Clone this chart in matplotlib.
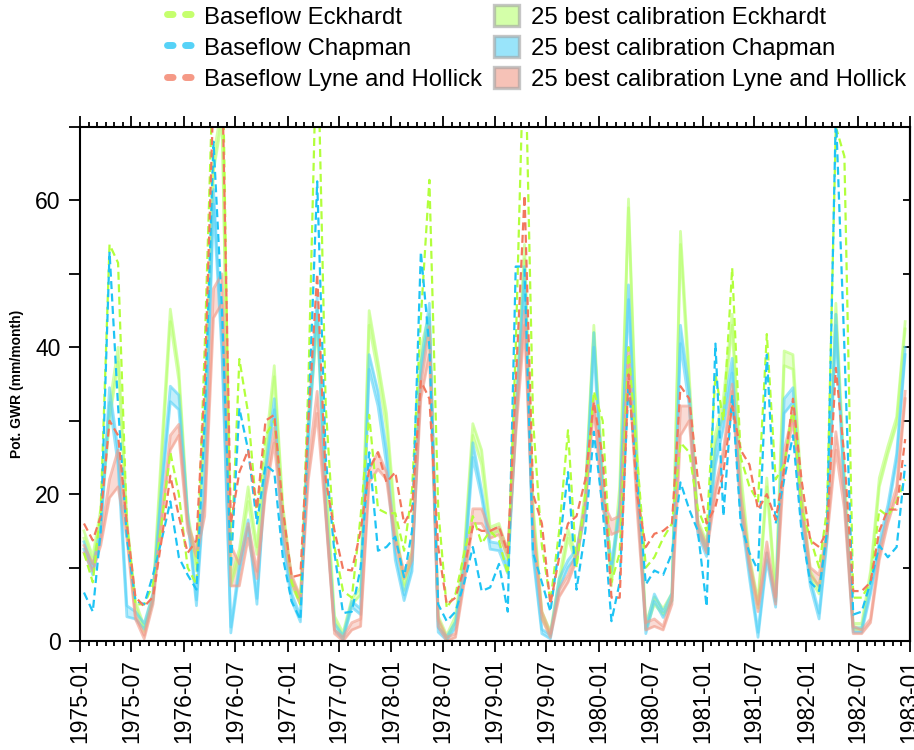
import matplotlib
matplotlib.use("Agg")
import matplotlib.pyplot as plt
import matplotlib.dates as mdates
from matplotlib.lines import Line2D
from matplotlib.patches import Patch
import numpy as np
import pandas as pd

plt.rcParams['font.family'] = ['Liberation Sans', 'DejaVu Sans']

months = pd.date_range('1975-01-01', periods=96, freq='MS') + pd.Timedelta(days=14)

base_eck = [12, 8, 18, 54, 51.5, 16, 5, 5, 7.7, 16, 25.7, 20,
            10, 7.7, 40, 80, 85, 10, 38.4, 31, 17, 28, 30, 18,
            8, 5, 35, 85, 32, 12.8, 6.8, 5.9, 17, 30.8, 18, 17.4,
            17.4, 12.3, 20.6, 44, 62.8, 18, 4.5, 6.4, 12, 17, 13.3, 15,
            13.7, 9, 40, 85, 30, 13, 5.4, 15, 28.7, 10, 20, 34,
            30, 8, 12, 40, 25, 10, 11.4, 14, 16, 27, 25.7, 18,
            15, 36.3, 30, 50.8, 25, 21, 19, 41.8, 22, 24, 32, 18,
            14, 10, 18, 70, 66, 5.9, 5.9, 8, 17.9, 17, 19, 22]
base_chap = [6.6, 4, 15, 53, 32, 14, 5.5, 5, 9, 13.7, 19, 11.4,
             9, 7, 30, 68, 45, 10, 31.7, 26, 16, 24, 23, 11.4,
             5.4, 2.9, 30, 62.6, 25, 11.9, 3.8, 4, 10, 25.7, 12.3, 12.8,
             14.2, 8.7, 15, 53, 40, 5, 2.7, 4, 8, 12.8, 6.8, 7.3,
             10.5, 4, 51, 51, 12, 8, 4, 12.8, 23, 7, 15, 28.5,
             18, 2.7, 8, 35, 22, 7.7, 9.6, 9, 12, 21.6, 17.9, 15,
             4.7, 40.5, 17, 33.5, 16, 12, 9.6, 39, 16, 22, 28, 15,
             8, 6.8, 15, 72, 40, 3.6, 4, 8, 13, 11.4, 12.8, 24]
base_lh = [16, 13.7, 17, 30, 28, 16, 6, 4.7, 6, 13.7, 22.5, 17,
           12, 13.7, 35, 75, 78, 16, 23, 26, 18, 30, 30.8, 18,
           8.7, 9, 30, 50, 22, 15, 9.8, 9.6, 15, 23.4, 25.7, 21.6,
           23, 16, 18, 35.4, 33, 12.8, 5, 5.9, 10, 15.6, 15, 15,
           15.6, 12, 35, 60.7, 20, 16, 5, 11.4, 16, 17, 22, 32.6,
           25, 5.9, 5.9, 36.3, 20, 12.8, 14.6, 15, 16, 34.7, 33, 22,
           16, 18.3, 23, 32, 26, 24, 17.9, 20, 16.5, 23.4, 33, 22,
           13.7, 12.8, 15, 37.2, 25, 6.8, 6.8, 8, 15, 17.9, 17.9, 27.5]

eck_lo = [14, 10.5, 16.8, 30, 38, 15.5, 4.6, 1.3, 5.6, 24, 43.5, 35.5,
          16.5, 9.5, 29, 64, 71, 7.5, 11.5, 19, 11.8, 24, 36, 17.5,
          7.5, 5, 29, 43, 21, 2.6, 0.5, 5, 6.3, 43, 36.5, 29,
          15.5, 6.9, 11.5, 38, 43, 2.6, 0.3, 2.6, 11.5, 28, 24, 14.5,
          15, 11, 29, 52, 17.5, 3.2, 0.7, 7.5, 14, 10.5, 19.5, 42,
          21.5, 7.5, 19, 59, 24, 1.6, 5, 3.6, 5.5, 54, 34, 15.5,
          12.5, 27, 31, 43, 21, 10.5, 4.5, 21, 5.5, 37.5, 37, 19.5,
          8.5, 6.4, 14.5, 44.5, 21, 1.6, 1.6, 8.5, 21, 25.5, 29.5, 42.5]
eck_hi = [15, 11.5, 18, 32, 40, 16.5, 5.4, 2, 6.4, 26, 45.2, 37,
          17.5, 10.5, 31, 66, 73, 8.5, 12.5, 21, 12.8, 26, 37.5, 18.5,
          8.5, 5.8, 31, 45, 23, 3.4, 1.1, 5.8, 7.3, 45, 38, 31,
          16.5, 7.7, 12.5, 40, 44.5, 3.4, 0.8, 3.4, 12.5, 29.6, 26, 15.5,
          16, 12, 31, 54, 18.5, 4, 1.3, 8.5, 15.2, 11.5, 20.5, 43,
          22.5, 8.5, 21, 60.2, 26, 2.4, 6, 4.4, 6.5, 55.8, 36, 16.5,
          13.5, 28.2, 33, 44.5, 23, 11.5, 5.5, 22.2, 6.5, 39.5, 39, 20.5,
          9.5, 7.2, 15.5, 46, 23, 2.4, 2.4, 9.5, 22.2, 26.5, 30.5, 43.5]

chap_lo = [12.5, 9, 14.5, 32.5, 24, 3.3, 3, 1.6, 5.5, 20, 32.6, 31.5,
           16.5, 4.8, 21, 59.5, 39, 1.1, 9.5, 15.5, 5, 22.5, 31.5, 13.2,
           5.5, 2.6, 27, 45, 17.5, 1.6, 0.2, 4.6, 3.6, 37, 32, 24,
           11, 5.5, 9.5, 36, 44, 1.2, 0.1, 1.8, 9.5, 25, 19.5, 12.5,
           12.3, 9.2, 29, 49, 11.5, 1, 0.3, 7.2, 10, 11.5, 17.5, 40,
           19.5, 9.5, 17.5, 46.5, 21, 1, 5.4, 3.2, 5.5, 40.5, 32, 14.5,
           11.5, 24, 29, 36.5, 17.5, 8.5, 0.5, 11, 4.6, 31, 32.5, 16.5,
           7.5, 3, 13.5, 43, 19.5, 1.2, 1.2, 6.4, 12.5, 17.5, 24.5, 39]
chap_hi = [13.5, 10, 15.5, 34.5, 26, 4.8, 4, 2.4, 6.5, 21.2, 34.7, 33.5,
           17.5, 5.6, 23, 61.5, 41, 1.9, 10.5, 16.5, 5.8, 23.5, 33, 14.2,
           6.5, 3.4, 29, 47, 18.5, 2.4, 0.7, 5.4, 4.4, 39, 34, 26,
           12, 6.3, 10.5, 37.6, 46, 1.8, 0.6, 2.6, 10.5, 27, 20.5, 13.5,
           13.3, 10, 31, 51, 12.5, 1.6, 0.8, 8.5, 11, 12.5, 18.5, 42,
           20.5, 10.5, 18.5, 48.5, 23, 1.7, 6.4, 4, 6.5, 43, 34, 15.5,
           12.5, 26, 31, 38.5, 18.5, 9.5, 1.2, 12, 5.4, 33, 34.5, 17.5,
           8.5, 3.8, 14.5, 44.5, 20.5, 1.8, 1.8, 7.2, 13.5, 18.5, 25.5, 40]

lh_lo = [12, 9.5, 13, 19.5, 21, 14, 3, 0.3, 5, 16, 26, 28,
         15, 11.5, 17, 44, 46, 7.5, 7.5, 14, 8.5, 20, 27, 15,
         8, 5, 22, 31, 17, 1, 0, 1.5, 2, 21.6, 23.4, 22,
         13, 8.5, 11, 33, 39, 2, 0, 0.5, 8, 16, 16, 14,
         14.5, 11.5, 28, 43, 15, 3, 0.5, 6, 8, 11, 18, 32,
         18, 14.5, 15, 38, 18, 1.5, 2, 1.5, 5, 28, 30, 15,
         12, 20, 25, 34, 18, 10, 4, 12, 5, 24, 30, 18,
         9, 7.5, 14, 26, 18, 1, 1, 2.5, 11, 16, 20, 33]
lh_hi = [13, 10.5, 14, 22, 26, 15, 3.5, 0.8, 6, 17, 28, 29.5,
         16, 12.5, 19, 48, 50, 13, 10.5, 16, 9.5, 21, 29, 16.5,
         9, 6, 24, 34, 18, 1.5, 0.5, 2.5, 3, 23.4, 25.7, 23,
         14, 9.5, 12, 35, 42.8, 3, 0.5, 1, 9, 18, 18, 15,
         15.5, 12.5, 30, 45, 16, 4, 1, 7, 9, 12, 19, 33,
         19, 16.5, 17, 40, 20, 2.5, 3, 2, 6, 32, 32, 16,
         13, 21, 26, 35, 20, 11, 5, 13.5, 6, 26, 31, 19,
         10, 9, 15, 28.5, 20, 2, 1.5, 3, 12, 17, 21, 34]

labels_base = ['Baseflow Eckhardt', 'Baseflow Chapman', 'Baseflow Lyne and Hollick']
labels_band = ['25 best calibration Eckhardt', '25 best calibration Chapman',
               '25 best calibration Lyne and Hollick']
c_dash = ['#b2ff3c', '#1ec4f5', '#f2775e']
c_band = ['#b8ff70', '#55d2f8', '#f19a88']

fig = plt.figure(figsize=(9.14, 7.5), dpi=100)
ax = fig.add_axes([80/914, 109/750, 830/914, 514/750])

for lo, hi, c in [(eck_lo, eck_hi, c_band[0]), (chap_lo, chap_hi, c_band[1]), (lh_lo, lh_hi, c_band[2])]:
    ax.fill_between(months, lo, hi, color=c, alpha=0.35, lw=0)
    ax.plot(months, lo, color=c, lw=2.0, alpha=0.6)
    ax.plot(months, hi, color=c, lw=2.0, alpha=0.6)

for y, c in zip([base_eck, base_chap, base_lh], c_dash):
    ax.plot(months, y, color=c, lw=1.6, dashes=(3.6, 2.0))

ax.set_xlim(pd.Timestamp('1975-01-01'), pd.Timestamp('1983-01-01'))
ax.set_ylim(0, 70)
ax.xaxis.set_major_locator(mdates.MonthLocator(bymonth=[1, 7]))
ax.xaxis.set_major_formatter(mdates.DateFormatter('%Y-%m'))
ax.xaxis.set_minor_locator(mdates.MonthLocator())
ax.set_yticks([0, 20, 40, 60])
ax.set_yticks([10, 30, 50, 70], minor=True)
ax.tick_params(axis='x', which='both', top=True, bottom=True, direction='out', labelsize=16.5,
               labelrotation=90, width=1.3, pad=5)
ax.tick_params(axis='x', which='major', length=8)
ax.tick_params(axis='x', which='minor', length=3.8)
ax.tick_params(axis='y', which='both', left=True, right=False, direction='out', length=8,
               width=1.3, labelsize=16.5, pad=6)
secy = ax.secondary_yaxis('right')
secy.set_yticks(np.arange(0, 71, 10))
secy.tick_params(direction='in', length=5, width=1.3, labelright=False)
secy.spines['right'].set_linewidth(1.5)
for s in ax.spines.values():
    s.set_linewidth(1.5)
ax.set_ylabel('Pot. GWR (mm/month)', fontsize=10, fontweight='bold')
ax.yaxis.set_label_coords(-0.068, 0.5)

handles_base = [Line2D([0], [0], color=c, lw=5, alpha=0.75, dashes=(0.8, 1.8), dash_capstyle='round')
                for c in c_dash]
handles_band = [Patch(facecolor=c, alpha=0.6, edgecolor='#a0a0a0', linewidth=2.4) for c in c_band]
handles = handles_base + handles_band
labels = labels_base + labels_band
fig.legend(handles, labels, ncol=2, loc='upper left', bbox_to_anchor=(167/914, 1 - 5/750),
           frameon=False, fontsize=17.2, handlelength=1.05, handleheight=1.0,
           handletextpad=0.5, columnspacing=0.5, labelspacing=0.3, borderaxespad=0,
           borderpad=0)

fig.savefig('out.png', dpi=100)
